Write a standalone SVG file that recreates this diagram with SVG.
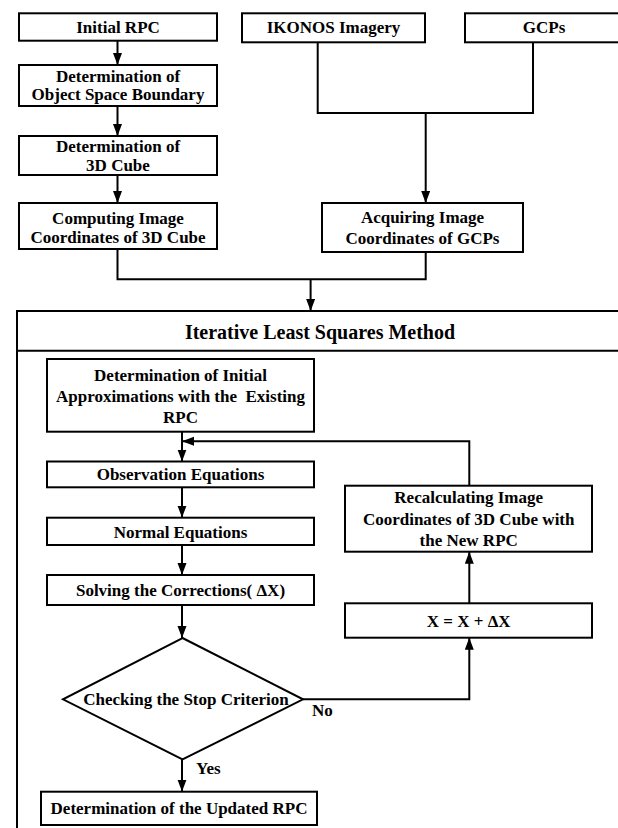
<svg xmlns="http://www.w3.org/2000/svg" width="618" height="828" viewBox="0 0 618 828">
<style>
.box{fill:#fff;stroke:#000;stroke-width:2}
.ln{fill:none;stroke:#000;stroke-width:2}
.t{font-family:"Liberation Serif","Times New Roman",serif;font-weight:bold;font-size:17px;fill:#000;text-anchor:middle}
.lb{font-family:"Liberation Serif","Times New Roman",serif;font-weight:bold;font-size:17px;fill:#000;text-anchor:start}
.title{font-family:"Liberation Serif","Times New Roman",serif;font-weight:bold;font-size:20px;fill:#000;text-anchor:middle}
</style>
<defs>
<marker id="ah" markerUnits="userSpaceOnUse" markerWidth="12" markerHeight="10" refX="12" refY="4.5" orient="auto">
<path d="M0,0 L12,4.5 L0,9 z" fill="#000"/>
</marker>
</defs>
<rect width="618" height="828" fill="#fff"/>

<g id="ilsm">
<rect class="box" x="17" y="311" width="630" height="540"/>
<line class="ln" x1="17" y1="350.7" x2="618" y2="350.7"/>
<text class="title" x="320" y="339">Iterative Least Squares Method</text>
</g>

<g id="connectors">
<path class="ln" d="M117.5,41 V65" marker-end="url(#ah)"/>
<path class="ln" d="M117.5,106 V136" marker-end="url(#ah)"/>
<path class="ln" d="M117.5,175 V203" marker-end="url(#ah)"/>
<path class="ln" d="M317.7,42 V113 H533 V42"/>
<path class="ln" d="M425.7,113 V203" marker-end="url(#ah)"/>
<path class="ln" d="M117.5,249 V279.3 H425.7 V252"/>
<path class="ln" d="M310.6,279.3 V311" marker-end="url(#ah)"/>
<path class="ln" d="M182,431.7 V461.5" marker-end="url(#ah)"/>
<path class="ln" d="M182,487.3 V517.7" marker-end="url(#ah)"/>
<path class="ln" d="M182,545 V575" marker-end="url(#ah)"/>
<path class="ln" d="M182,605 V638" marker-end="url(#ah)"/>
<path class="ln" d="M182,759.5 V791.7" marker-end="url(#ah)"/>
<path class="ln" d="M303,699.3 H469.3 V637.7" marker-end="url(#ah)"/>
<path class="ln" d="M469.3,603.3 V551.7" marker-end="url(#ah)"/>
<path class="ln" d="M469.3,485.7 V441.3 H182" marker-end="url(#ah)"/>
<text class="lb" x="196" y="773.5">Yes</text>
<text class="lb" x="312" y="716">No</text>
</g>

<g id="initial-rpc">
<rect class="box" x="19" y="13.3" width="198" height="27.4"/>
<text class="t" x="118" y="32.7">Initial RPC</text>
</g>
<g id="ikonos">
<rect class="box" x="242" y="13.3" width="183" height="29"/>
<text class="t" x="333.5" y="33">IKONOS Imagery</text>
</g>
<g id="gcps">
<rect class="box" x="465" y="13.3" width="170" height="29"/>
<text class="t" x="544" y="33">GCPs</text>
</g>
<g id="object-space">
<rect class="box" x="19" y="65" width="198" height="41"/>
<text class="t" x="118" y="82">Determination of</text>
<text class="t" x="118" y="100">Object Space Boundary</text>
</g>
<g id="cube">
<rect class="box" x="19" y="136" width="198" height="39"/>
<text class="t" x="118" y="151.7">Determination of</text>
<text class="t" x="118" y="170.5">3D Cube</text>
</g>
<g id="computing">
<rect class="box" x="19" y="203" width="198" height="46"/>
<text class="t" x="118" y="224">Computing Image</text>
<text class="t" x="118" y="242.5">Coordinates of 3D Cube</text>
</g>
<g id="acquiring">
<rect class="box" x="322" y="203" width="201" height="49"/>
<text class="t" x="422.5" y="222.7">Acquiring Image</text>
<text class="t" x="422.5" y="244.3">Coordinates of GCPs</text>
</g>
<g id="initial-approx">
<rect class="box" x="47" y="359" width="267" height="72.7"/>
<text class="t" x="180.5" y="380.5">Determination of Initial</text>
<text class="t" x="180.5" y="402">Approximations with the&#160; Existing</text>
<text class="t" x="180.5" y="422.5">RPC</text>
</g>
<g id="observation">
<rect class="box" x="47" y="461.5" width="267" height="25.8"/>
<text class="t" x="180.5" y="480">Observation Equations</text>
</g>
<g id="normal">
<rect class="box" x="47" y="517.7" width="267" height="27.3"/>
<text class="t" x="180.5" y="537.8">Normal Equations</text>
</g>
<g id="solving">
<rect class="box" x="47" y="575" width="267" height="30"/>
<text class="t" x="180.5" y="596">Solving the Corrections( ΔX)</text>
</g>
<g id="stop-check">
<polygon class="box" points="182.5,638 303,699.3 182.5,759.5 63,699.3"/>
<text class="t" x="186" y="704.5">Checking the Stop Criterion</text>
</g>
<g id="updated-rpc">
<rect class="box" x="41" y="791.7" width="276" height="33.3"/>
<text class="t" x="179" y="814">Determination of the Updated RPC</text>
</g>
<g id="update-x">
<rect class="box" x="345" y="603.3" width="247" height="34.4"/>
<text class="t" x="468.7" y="627">X = X + ΔX</text>
</g>
<g id="recalc">
<rect class="box" x="345" y="485.7" width="247" height="66"/>
<text class="t" x="468.7" y="503">Recalculating Image</text>
<text class="t" x="468.7" y="524.5">Coordinates of 3D Cube with</text>
<text class="t" x="468.7" y="546">the New RPC</text>
</g>
</svg>
